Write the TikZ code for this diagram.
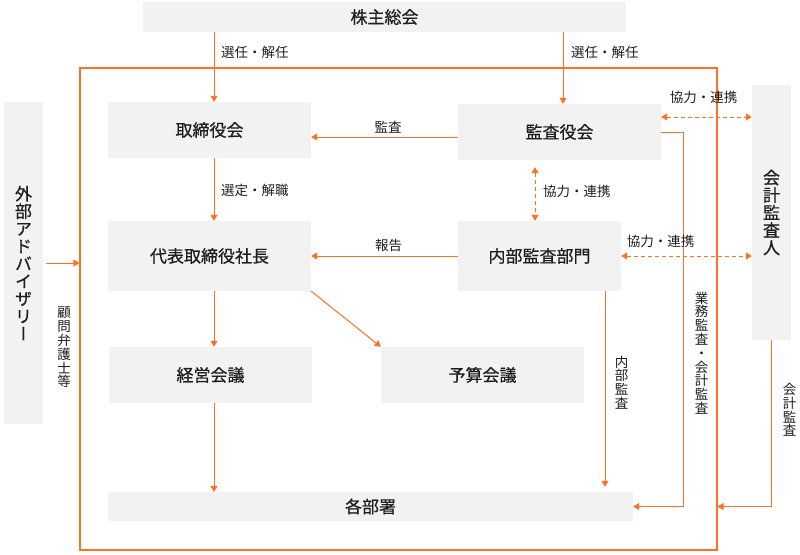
\documentclass[tikz,border=0pt]{standalone}
\usepackage{fontspec}
\setmainfont{Noto Sans CJK JP}
\newfontfamily\tate[RawFeature=+vert]{Noto Sans CJK JP}
\newfontfamily\boxfont[FakeBold=0.6]{Noto Sans CJK JP}
\newfontfamily\boxtate[RawFeature=+vert,FakeBold=0.6]{Noto Sans CJK JP}
\usetikzlibrary{arrows.meta}
\definecolor{line}{RGB}{255,112,32}
\definecolor{boxgray}{RGB}{242,242,242}
\definecolor{ink}{RGB}{30,30,30}
\tikzset{
  box/.style={fill=boxgray, inner sep=0pt, text=ink, font=\boxfont\fontsize{17}{17.5}\selectfont},
  vbox/.style={box, align=center, font=\boxtate\fontsize{17}{17.5}\selectfont},
  lbl/.style={text=ink, inner sep=0pt, font=\fontsize{13.5}{14}\selectfont},
  vlbl/.style={lbl, align=center, font=\tate\fontsize{13.5}{13.8}\selectfont},
  arr/.style={draw=line, line width=1pt, -{Triangle[width=7pt,length=6pt]}},
  darr/.style={arr, {Triangle[width=7pt,length=6pt]}-{Triangle[width=7pt,length=6pt]}, dash pattern=on 4pt off 3pt},
}

\begin{document}
\begin{tikzpicture}[x=1pt,y=-1pt]
		\useasboundingbox (0,0) rectangle (800,554);
		\node[draw=line, line width=1.2pt, minimum width=637pt, minimum height=482pt] (frame) at (398.5,309) {};
		% boxes
		\node[box, minimum width=483pt, minimum height=30pt] (kabunushi) at (384.5,17) {株主総会};
		\node[box, minimum width=203pt, minimum height=56pt] (torishimari) at (209.5,130) {取締役会};
		\node[box, minimum width=203pt, minimum height=56pt] (kansayaku) at (559.5,132) {監査役会};
		\node[box, minimum width=203pt, minimum height=70pt] (daihyo) at (209.5,256) {代表取締役社長};
		\node[box, minimum width=163pt, minimum height=70pt] (naibu) at (539.5,256) {内部監査部門};
		\node[box, minimum width=203pt, minimum height=56pt] (keiei) at (210.5,375) {経営会議};
		\node[box, minimum width=203pt, minimum height=56pt] (yosan) at (482.5,375) {予算会議};
		\node[box, minimum width=525pt, minimum height=29pt] (kakubusho) at (370.5,506.5) {各部署};
		\node[vbox, minimum width=39pt, minimum height=322pt] (gaibu) at (23.5,263) {外\\部\\ア\\ド\\バ\\イ\\ザ\\リ\\ー};
		\node[vbox, minimum width=39pt, minimum height=255pt] (kaikei) at (771.5,212.5) {会\\計\\監\\査\\人};

		\coordinate (colA) at (214,0);
		\coordinate (colB) at (563,0);
		\coordinate (colC) at (535,0);
		\coordinate (colD) at (605,0);
		\coordinate (colE) at (683,0);
		\coordinate (rowA) at (0,137);
		\coordinate (rowB) at (0,117);

		% connectors
		\draw[arr] (colA |- kabunushi.south) -- (colA |- torishimari.north);
		\draw[arr] (colB |- kabunushi.south) -- (colB |- kansayaku.north);
		\draw[arr] (kansayaku.west |- rowA) -- (torishimari.east |- rowA);
		\draw[arr] (colA |- torishimari.south) -- (colA |- daihyo.north);
		\draw[darr, shorten <=7pt] (colC |- kansayaku.south) -- (colC |- naibu.north);
		\draw[arr] (naibu.west) -- (daihyo.east);
		\draw[darr] (kansayaku.east |- rowB) -- (kaikei.west |- rowB);
		\draw[darr] (naibu.east) -- (kaikei.west |- naibu.east);
		\draw[arr] (colA |- daihyo.south) -- (colA |- keiei.north);
		\draw[arr] (daihyo.south east) -- (yosan.north west);
		\draw[arr] (colA |- keiei.south) -- (colA |- kakubusho.north);
		\draw[arr, shorten >=5pt] (colD |- naibu.south) -- (colD |- kakubusho.north);
		\draw[arr] (kansayaku.east) -| (colE |- kakubusho.east) -- (kakubusho.east);
		\draw[arr] (kaikei.south) |- (frame.east |- kakubusho.east);
		\draw[arr, shorten <=3pt] (gaibu.east) -- (frame.west |- gaibu.east);

		% labels
		\node[lbl, anchor=west] (l1) at (221,52) {選任・解任};
		\node[lbl, anchor=west] (l2) at (571,52) {選任・解任};
		\node[lbl] (l3) at (388,127) {監査};
		\node[lbl, anchor=west] (l4) at (221,190) {選定・解職};
		\node[lbl, anchor=west] (l5) at (543,191) {協力・連携};
		\node[lbl] (l6) at (388.5,245) {報告};
		\node[lbl] (l7) at (703.5,97) {協力・連携};
		\node[lbl] (l8) at (660.5,241.5) {協力・連携};
		\node[vlbl] (l9) at (621.5,382.5) {内\\部\\監\\査};
		\node[vlbl] (l10) at (701.5,353) {業\\務\\監\\査\\・\\会\\計\\監\\査};
		\node[vlbl] (l11) at (789.5,410) {会\\計\\監\\査};
		\node[vlbl] (l12) at (64,347.5) {顧\\問\\弁\\護\\士\\等};
	\end{tikzpicture}
\end{document}
